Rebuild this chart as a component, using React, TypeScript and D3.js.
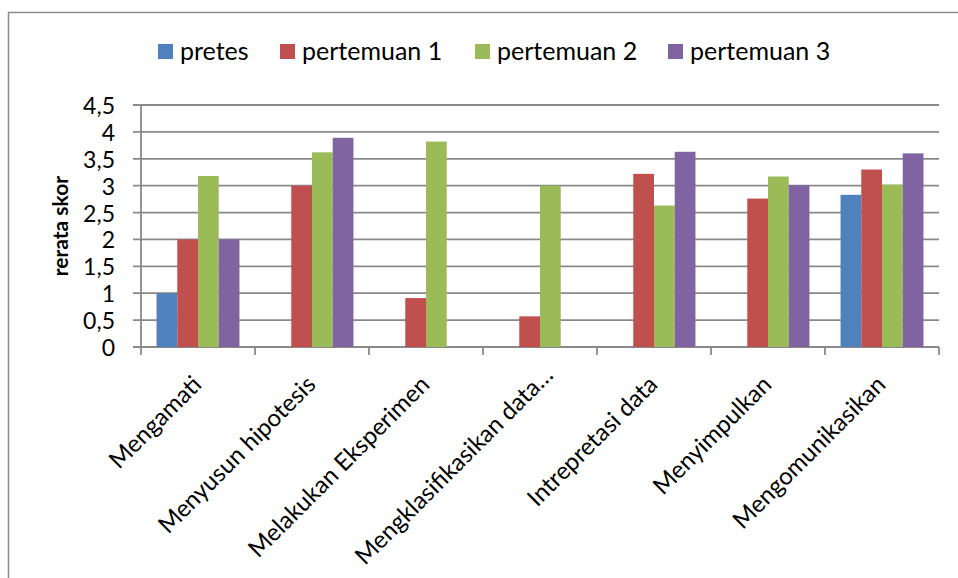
import React, { useLayoutEffect, useRef, useState } from "react";
import * as d3 from "d3";

// Skill categories on the x axis
const categories = [
  "Mengamati",
  "Menyusun hipotesis",
  "Melakukan Eksperimen",
  "Mengklasifikasikan data…",
  "Intrepretasi data",
  "Menyimpulkan",
  "Mengomunikasikan",
];

// Series names and their values per category
const seriesNames = ["pretes", "pertemuan 1", "pertemuan 2", "pertemuan 3"];
const pretes = [1, 0, 0, 0, 0, 0, 2.83];
const pertemuan1 = [2, 3, 0.91, 0.57, 3.22, 2.76, 3.3];
const pertemuan2 = [3.18, 3.62, 3.82, 3.0, 2.63, 3.17, 3.02];
const pertemuan3 = [2, 3.89, 0, 0, 3.63, 3.01, 3.6];

const yTicks = [0, 0.5, 1, 1.5, 2, 2.5, 3, 3.5, 4, 4.5];
const yTitle = "rerata skor";

const colors = ["#4F81BD", "#C0504D", "#9BBB59", "#8064A2"];

const W = 958;
const H = 578;
const plot = { left: 141, right: 939, top: 105, bottom: 347 };
const FONT = "Lato, 'Open Sans', sans-serif";
const LABEL_Y = 386; // baseline end of rotated category labels
const LABEL_BOTTOM = 566; // lowest point a rotated label may reach

export default function App() {
  const values = [pretes, pertemuan1, pertemuan2, pertemuan3];
  const labelRefs = useRef<(SVGTextElement | null)[]>([]);
  const [labelLens, setLabelLens] = useState<number[]>(categories.map(() => 0));

  useLayoutEffect(() => {
    const lens = labelRefs.current.map((el) => (el ? el.getComputedTextLength() : 0));
    setLabelLens(lens);
  }, []);

  const x0 = d3
    .scaleBand<string>()
    .domain(categories)
    .range([plot.left, plot.right])
    .paddingInner(0)
    .paddingOuter(0);

  const bandW = x0.bandwidth();
  const barW = bandW / 5.5;
  const x1 = d3
    .scaleBand<string>()
    .domain(seriesNames)
    .range([bandW / 2 - barW * 2, bandW / 2 + barW * 2]);

  const y = d3.scaleLinear().domain([0, 4.5]).range([plot.bottom, plot.top]);

  const fmt = (v: number) => String(v).replace(".", ",");

  const legendSwatchX = [158, 280, 475, 668];

  const gridColor = "#898989";

  return (
    <svg
      width={W}
      height={H}
      style={{ position: "absolute", left: 0, top: 0, background: "#fff" }}
      fontFamily={FONT}
    >
      {/* chart frame */}
      <rect x={8.5} y={12.5} width={W + 20} height={H + 20} fill="#fff" stroke="#8c8c8c" strokeWidth={1.5} />

      {/* legend */}
      {seriesNames.map((name, i) => (
        <g key={name}>
          <rect x={legendSwatchX[i]} y={44} width={15} height={15} fill={colors[i]} />
          <text x={legendSwatchX[i] + 22} y={59.5} fontSize={25} fill="#000">
            {name}
          </text>
        </g>
      ))}

      {/* horizontal gridlines with left tick marks */}
      {yTicks.map((t) => (
        <line
          key={t}
          x1={plot.left - 8}
          x2={plot.right}
          y1={y(t)}
          y2={y(t)}
          stroke={gridColor}
          strokeWidth={1.8}
        />
      ))}

      {/* y tick labels */}
      {yTicks.map((t) => (
        <text
          key={"l" + t}
          x={115}
          y={y(t)}
          textAnchor="end"
          dominantBaseline="central"
          fontSize={23}
          fill="#000"
        >
          {fmt(t)}
        </text>
      ))}

      {/* y axis title */}
      <text
        transform={`translate(68, ${(plot.top + plot.bottom) / 2}) rotate(-90)`}
        textAnchor="middle"
        fontSize={21}
        fontWeight="bold"
        fill="#000"
      >
        {yTitle}
      </text>

      {/* bars */}
      {categories.map((c, ci) => (
        <g key={c} transform={`translate(${x0(c)},0)`}>
          {seriesNames.map((s, si) => {
            const v = values[si][ci];
            if (!v) return null;
            return (
              <rect
                key={s}
                x={x1(s)}
                y={y(v)}
                width={x1.bandwidth()}
                height={y(0) - y(v)}
                fill={colors[si]}
              />
            );
          })}
        </g>
      ))}

      {/* y axis line */}
      <line x1={plot.left} x2={plot.left} y1={plot.top} y2={plot.bottom + 8} stroke={gridColor} strokeWidth={1.8} />

      {/* category tick marks */}
      {categories.map((c) => (
        <line
          key={"t" + c}
          x1={(x0(c) as number) + bandW}
          x2={(x0(c) as number) + bandW}
          y1={plot.bottom}
          y2={plot.bottom + 8}
          stroke={gridColor}
          strokeWidth={1.8}
        />
      ))}

      {/* rotated category labels, lifted when they would run past the bottom */}
      {categories.map((c, i) => {
        const cx = (x0(c) as number) + bandW / 2;
        const drop = labelLens[i] * Math.SQRT1_2;
        const ly = Math.min(LABEL_Y, LABEL_BOTTOM - drop);
        const lx = cx + 5 + (LABEL_Y - ly);
        return (
          <text
            key={"c" + c}
            ref={(el) => {
              labelRefs.current[i] = el;
            }}
            transform={`translate(${lx}, ${ly}) rotate(-45)`}
            textAnchor="end"
            fontSize={24}
            fill="#000"
          >
            {c}
          </text>
        );
      })}
    </svg>
  );
}
